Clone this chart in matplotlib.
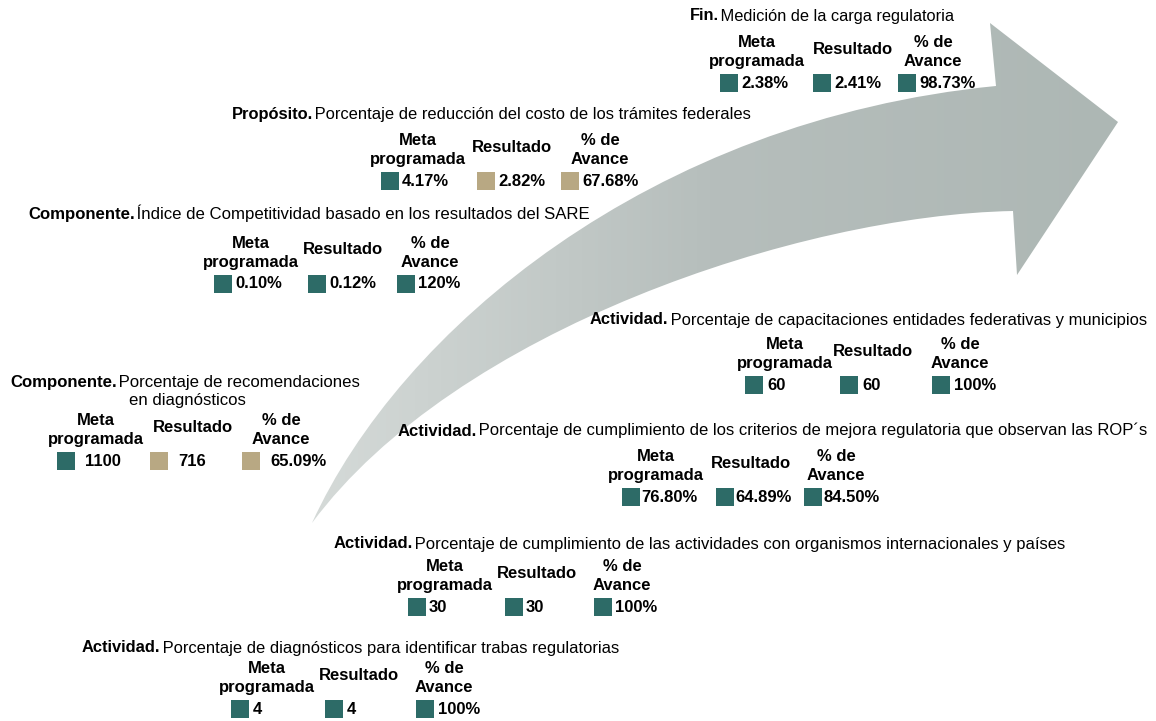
import numpy as np
import matplotlib.pyplot as plt
from matplotlib.path import Path
from matplotlib.patches import PathPatch, Rectangle
from matplotlib.colors import LinearSegmentedColormap

plt.rcParams['font.family'] = ['Liberation Sans', 'DejaVu Sans']

# data
levels = ["Fin.", "Propósito.", "Componente.", "Componente.",
          "Actividad.", "Actividad.", "Actividad.", "Actividad."]
descriptions = [
    "Medición de la carga regulatoria",
    "Porcentaje de reducción del costo de los trámites federales",
    "Índice de Competitividad basado en los resultados del SARE",
    "Porcentaje de recomendaciones",
    "Porcentaje de capacitaciones entidades federativas y municipios",
    "Porcentaje de cumplimiento de los criterios de mejora regulatoria que observan las ROP´s",
    "Porcentaje de cumplimiento de las actividades con organismos internacionales y países",
    "Porcentaje de diagnósticos para identificar trabas regulatorias",
]
meta = ["2.38%", "4.17%", "0.10%", "1100", "60", "76.80%", "30", "4"]
resultado = ["2.41%", "2.82%", "0.12%", "716", "60", "64.89%", "30", "4"]
avance = ["98.73%", "67.68%", "120%", "65.09%", "100%", "84.50%", "100%", "100%"]
# semaphore of each value: 'v' = verde, 'a' = amarillo
estado = [["v", "v", "v"], ["v", "a", "a"], ["v", "v", "v"], ["v", "a", "a"],
          ["v", "v", "v"], ["v", "v", "v"], ["v", "v", "v"], ["v", "v", "v"]]
col_heads = ["Meta\nprogramada", "Resultado", "% de\nAvance"]

# layout (pixels)
title_pos = [(690, 16), (232, 115), (28, 215), (10, 382),
             (590, 320), (398, 431), (334, 544), (82, 648)]
title_fs = [11.8, 11.9, 12.1, 12.1, 11.9, 12.0, 12.0, 11.9]
head_y = [42, 140, 243, 420, 344, 456, 566, 668]
col_x = [(757, 853, 933), (418, 512, 600), (251, 343, 430), (96, 193, 281),
         (785, 873, 960), (656, 751, 836), (445, 537, 622), (267, 359, 444)]
sq_x = [(720, 813, 898), (381, 477, 561), (214, 308, 397), (57, 150, 242),
        (745, 840, 932), (622, 716, 804), (408, 505, 594), (231, 325, 416)]
txt_gap = [21, 21, 21, 28, 22, 19, 21, 22]
colores = {"v": "#2d6b67", "a": "#b8a883"}

W, H = 1156, 721
fig = plt.figure(figsize=(W / 100, H / 100), dpi=100)
ax = fig.add_axes([0, 0, 1, 1])
ax.set_xlim(0, W)
ax.set_ylim(H, 0)
ax.axis('off')

# curved arrow
verts = [(312, 523),
         (400, 330), (650, 120), (996, 86),
         (990, 23), (1118, 122), (1017, 275), (1013, 211),
         (800, 215), (455, 330), (312, 523),
         (312, 523)]
codes = [Path.MOVETO,
         Path.CURVE4, Path.CURVE4, Path.CURVE4,
         Path.LINETO, Path.LINETO, Path.LINETO, Path.LINETO,
         Path.CURVE4, Path.CURVE4, Path.CURVE4,
         Path.CLOSEPOLY]
arrow = PathPatch(Path(verts, codes), facecolor='none', edgecolor='none')
ax.add_patch(arrow)
cmap = LinearSegmentedColormap.from_list('flecha', ['#d6dbd9', '#b6bebc', '#adb7b4'])
grad = np.linspace(0, 1, 256)[None, :]
im = ax.imshow(grad, cmap=cmap, extent=(300, 1120, 721, 0), aspect='auto', zorder=1)
im.set_clip_path(arrow)

for i in range(len(levels)):
    tx, ty = title_pos[i]
    t = ax.text(tx, ty, levels[i], fontsize=title_fs[i], fontweight='bold',
                ha='left', va='center', zorder=3)
    ax.annotate(" " + descriptions[i], xy=(1, 0), xycoords=t,
                xytext=(-2, 0), textcoords='offset points', fontsize=title_fs[i],
                ha='left', va='bottom', zorder=3)
    if i == 3:
        ax.text(187, ty + 19, "en diagnósticos", fontsize=title_fs[i],
                ha='center', va='center', zorder=3)

    hy = head_y[i]
    vals = [meta[i], resultado[i], avance[i]]
    for j in range(3):
        cx = col_x[i][j]
        if j == 1:
            ax.text(cx, hy + 7, col_heads[j], fontsize=12, fontweight='bold',
                    ha='center', va='center', zorder=3)
        else:
            ax.text(cx, hy + 10, col_heads[j], fontsize=12, fontweight='bold',
                    ha='center', va='center', linespacing=1.4, zorder=3)
        vy = hy + 41
        ax.add_patch(Rectangle((sq_x[i][j], vy - 9), 18, 18,
                               facecolor=colores[estado[i][j]], edgecolor='none', zorder=3))
        ax.text(sq_x[i][j] + txt_gap[i], vy, vals[j], fontsize=12, fontweight='bold',
                ha='left', va='center', zorder=3)

fig.savefig('out.png', dpi=100)
